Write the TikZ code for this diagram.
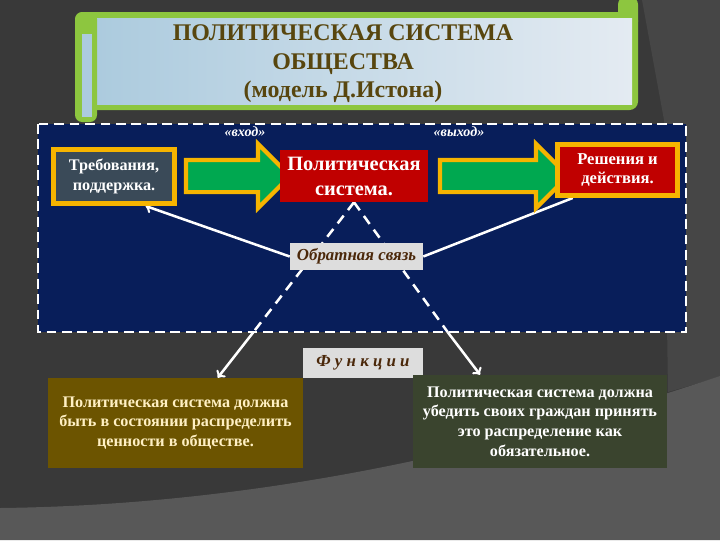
\documentclass[tikz,border=0pt]{standalone}
\usepackage{fontspec}
\setmainfont{Liberation Serif}
\usetikzlibrary{shapes.arrows,backgrounds}

\definecolor{fondo}{RGB}{57,57,57}
\definecolor{fondochiaro}{RGB}{70,70,70}
\definecolor{fondobasso}{RGB}{88,88,88}
\definecolor{verderotolo}{RGB}{141,198,63}
\definecolor{azzurroL}{RGB}{172,203,222}
\definecolor{azzurroR}{RGB}{228,235,242}
\definecolor{titolo}{RGB}{88,70,14}
\definecolor{pannello}{RGB}{8,30,90}
\definecolor{arancio}{RGB}{246,180,0}
\definecolor{verdefreccia}{RGB}{0,168,80}
\definecolor{rosso}{RGB}{192,0,0}
\definecolor{ardesia}{RGB}{58,74,88}
\definecolor{grigiochiaro}{RGB}{221,221,221}
\definecolor{marrone}{RGB}{75,40,10}
\definecolor{oliva}{RGB}{108,84,0}
\definecolor{crema}{RGB}{255,240,195}
\definecolor{verdescuro}{RGB}{58,68,46}

\begin{document}
\begin{tikzpicture}[x=0.025cm, y=-0.025cm,
    testo/.style={inner sep=0pt, align=center, text=white,
        font=\bfseries\fontsize{11.5pt}{14pt}\selectfont},
    cornice/.style={testo, draw=arancio, line width=3.5pt},
    freccia/.style={single arrow, draw=arancio, fill=verdefreccia, line width=3pt,
        inner xsep=0pt, inner ysep=0.35cm, minimum width=0pt,
        single arrow head extend=0.4cm},
    etichetta/.style={fill=grigiochiaro, text=marrone, inner sep=0pt,
        font=\bfseries\itshape\fontsize{12pt}{14pt}\selectfont},
    funzione/.style={testo, font=\bfseries\fontsize{11.5pt}{13.9pt}\selectfont},
    collega/.style={white, line width=1.8pt},
    ritorno/.style={white, line width=1.8pt, dash pattern=on 7pt off 5pt}]
    \useasboundingbox (0,0) rectangle (720,540);

    % Titolo
    \node[testo, text=titolo, font=\bfseries\fontsize{17pt}{20.3pt}\selectfont]
        (titolo) at (343,64) {ПОЛИТИЧЕСКАЯ СИСТЕМА\\ОБЩЕСТВА\\(модель Д.Истона)};

    % Ingresso e uscita
    \node[testo, font=\bfseries\itshape\fontsize{10pt}{12pt}\selectfont] (vhod) at (245,132) {«вход»};
    \node[testo, font=\bfseries\itshape\fontsize{10pt}{12pt}\selectfont] (vyhod) at (459,132) {«выход»};

    % Frecce larghe
    \node[freccia, minimum height=2.6cm] (fin) at (230,176) {};
    \node[freccia, minimum height=3.2cm] (fout) at (496,176) {};

    % Blocchi
    \node[cornice, fill=ardesia, minimum width=3.025cm, minimum height=1.35cm]
        (treb) at (114,176.5) {Требования,\\поддержка.};
    \node[testo, fill=rosso, minimum width=3.7cm, minimum height=1.3cm,
        font=\bfseries\fontsize{14.5pt}{17.8pt}\selectfont]
        (sist) at (354,176) {Политическая\\система.};
    \node[cornice, fill=rosso, minimum width=3cm, minimum height=1.275cm,
        font=\bfseries\fontsize{11.8pt}{14.2pt}\selectfont]
        (resh) at (617.5,170) {Решения и\\действия.};

    \node[etichetta, minimum width=3.325cm, minimum height=0.675cm]
        (obr) at (356.5,256.5) {Обратная связь};
    \node[etichetta, minimum width=3cm, minimum height=0.75cm]
        (funk) at (363,363) {Ф у н к ц и и};

    % Funzioni
    \node[funzione, text=crema, fill=oliva, minimum width=6.375cm, minimum height=2.25cm]
        (distr) at (175.5,423) {Политическая система должна\\быть в состоянии распределить\\ценности в обществе.};
    \node[funzione, fill=verdescuro, minimum width=6.35cm, minimum height=2.325cm]
        (ubed) at (540,421.5) {Политическая система должна\\убедить своих граждан принять\\это распределение как\\обязательное.};

    \begin{pgfonlayer}{background}
        % Sfondo
        \fill[fondo] (0,0) rectangle (720,540);
        \fill[fondochiaro] (642,0) -- (720,0) -- (720,377) -- (668,392) -- (664,120) -- cycle;
        \fill[fondobasso] (0,508) .. controls (260,505) and (500,450) .. (720,376)
            -- (720,540) -- (0,540) -- cycle;

        % Cartiglio
        \fill[verderotolo, rounded corners=6] (75,12) rectangle (638,110);
        \fill[verderotolo, rounded corners=6] (618,-4) rectangle (638,30);
        \shade[left color=azzurroL, right color=azzurroR] (97,18) rectangle (632,104);
        \fill[verderotolo, rounded corners=5] (75,12) rectangle (97,122);
        \fill[azzurroL] (82,34) rectangle (92,117);

        % Pannello
        \draw[white, line width=1.5pt, dash pattern=on 7pt off 4pt, fill=pannello]
            (38,124) rectangle (686,332);

        % Collegamenti
        \coordinate (tagliosx) at (253.5,332);
        \coordinate (tagliodx) at (447.6,332);
        \draw[ritorno] (sist.south) -- (tagliosx);
        \draw[ritorno] (sist.south) -- (tagliodx);
        \draw[collega, ->] (tagliosx) -- (distr.47);
        \draw[collega, ->] (tagliodx) -- (ubed.142);
        \draw[collega, ->] (obr.west) -- (treb.-43);
        \draw[collega] (obr.east) -- (resh.-148);
    \end{pgfonlayer}
\end{tikzpicture}
\end{document}
